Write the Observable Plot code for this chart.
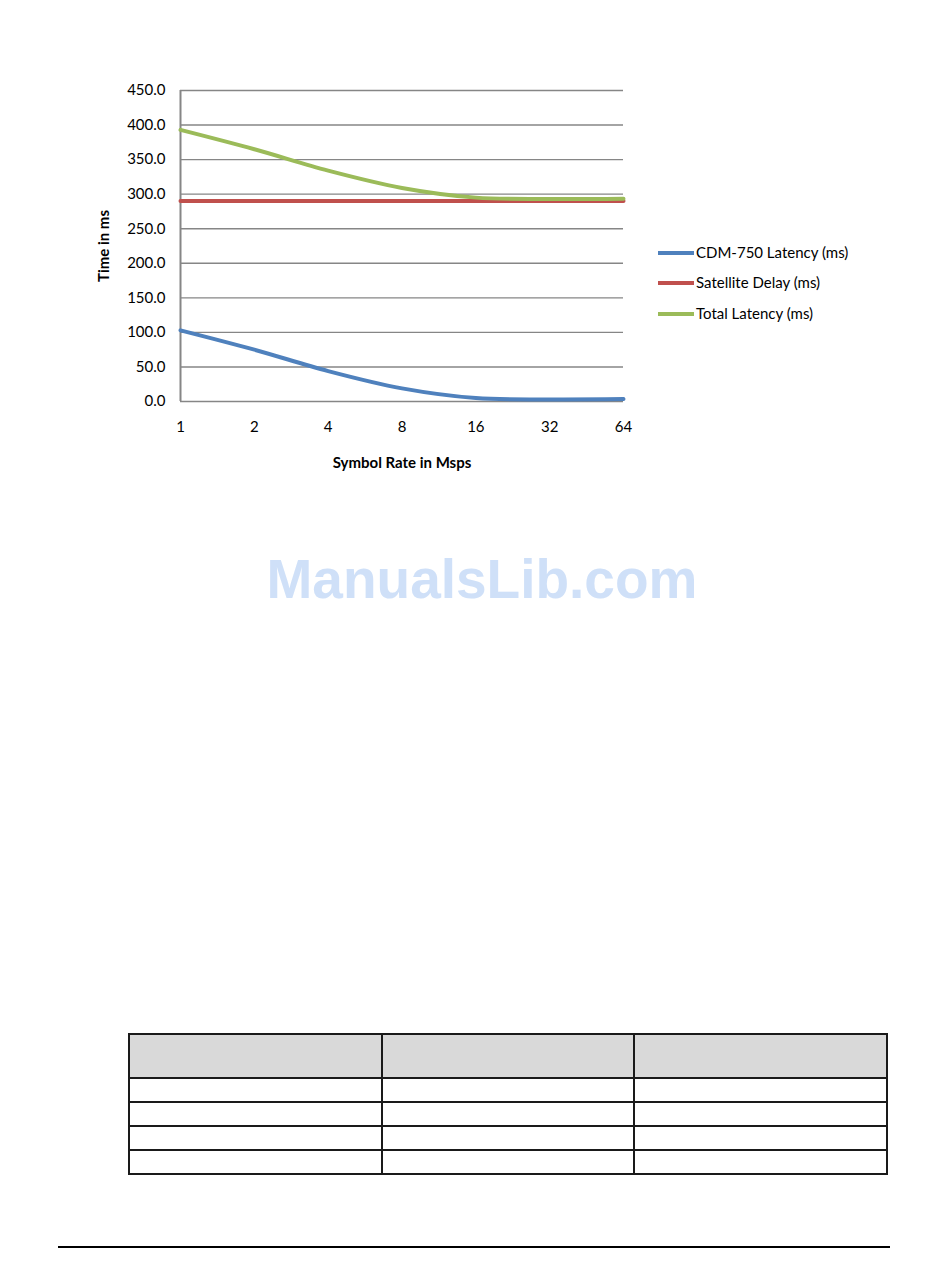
<!DOCTYPE html>
<html>
<head>
<meta charset="utf-8">
<script src="https://cdn.jsdelivr.net/npm/d3@7"></script>
<script src="https://cdn.jsdelivr.net/npm/@observablehq/plot@0.6"></script>
<style>
  body { margin: 0; background: #fff; }
  #page { position: relative; width: 950px; height: 1267px; overflow: hidden; background: #fff;
          font-family: Lato, "Open Sans", sans-serif; color: #000; }
  #chart { position: absolute; left: 0; top: 0; }
  .legend { position: absolute; left: 658px; top: 0; font-size: 15px; }
  .legend .row { position: absolute; left: 0; white-space: nowrap; height: 18px; line-height: 18px; transform: translateY(-9px); }
  .legend .swatch { display: inline-block; width: 36px; height: 4px; vertical-align: middle; margin-right: 2px; position: relative; top: -1px; }
  .watermark { position: absolute; left: 0; width: 964px; top: 547px; text-align: center;
               font-family: "Liberation Sans", Arial, sans-serif; font-weight: bold; font-size: 55px;
               color: #cfe0f8; line-height: 64px; }
  table.blank { position: absolute; left: 128px; top: 1033px; width: 760px; border-collapse: collapse; table-layout: fixed; }
  table.blank td { border: 2px solid #1a1a1a; padding: 0; }
  table.blank tr.head td { background: #d9d9d9; height: 42px; }
  table.blank tr.body td { height: 22px; }
  .footrule { position: absolute; left: 58px; top: 1246px; width: 832px; height: 2px; background: #000; }
</style>
</head>
<body>
<div id="page">
  <div id="chart"></div>
  <div class="legend" id="legend"></div>
  <div class="watermark">ManualsLib.com</div>
  <table class="blank">
    <tr class="head"><td></td><td></td><td></td></tr>
    <tr class="body"><td></td><td></td><td></td></tr>
    <tr class="body"><td></td><td></td><td></td></tr>
    <tr class="body"><td></td><td></td><td></td></tr>
    <tr class="body"><td></td><td></td><td></td></tr>
  </table>
  <div class="footrule"></div>
</div>
<script>
// Symbol rate (Msps) against latency figures (ms)
const symbolRates = [1, 2, 4, 8, 16, 32, 64];
const cdmLatency = [103, 75, 44, 19, 5, 3, 3.5];
const satelliteDelay = [290, 290, 290, 290, 290, 290, 290];
const totalLatency = [393, 365, 334, 309, 295, 293, 293.5];
const yTicks = [0, 50, 100, 150, 200, 250, 300, 350, 400, 450];

const seriesNames = ["CDM-750 Latency (ms)", "Satellite Delay (ms)", "Total Latency (ms)"];
const seriesColors = ["#4F81BD", "#C0504D", "#9BBB59"];
const seriesValues = [cdmLatency, satelliteDelay, totalLatency];

const rows = seriesNames.flatMap((name, s) =>
  symbolRates.map((rate, i) => ({ series: name, rate, value: seriesValues[s][i] }))
);

const font = "Lato, 'Open Sans', sans-serif";

const chart = Plot.plot({
  width: 950,
  height: 500,
  marginLeft: 180,
  marginRight: 327,
  marginTop: 90,
  marginBottom: 99,
  style: { fontFamily: font, fontSize: "15px", color: "#000", background: "transparent", overflow: "visible" },
  x: { type: "log", base: 2, domain: [1, 64], label: null },
  y: { domain: [0, 450], label: null },
  color: { domain: seriesNames, range: seriesColors },
  marks: [
    Plot.gridY(yTicks, { stroke: "#868686", strokeOpacity: 1, strokeWidth: 1.4 }),
    Plot.ruleX([1], { stroke: "#868686", strokeWidth: 2 }),
    Plot.axisY(yTicks, { tickSize: 0, tickPadding: 15, tickFormat: d => d.toFixed(1), fill: "#000" }),
    Plot.axisX(symbolRates, { tickSize: 0, tickPadding: 20, tickFormat: d => String(d), fill: "#000" }),
    Plot.text(["Time in ms"], { frameAnchor: "left", dx: -76, rotate: -90, fontWeight: "bold", fontSize: 15,
                                textAnchor: "middle", lineAnchor: "middle", letterSpacing: "1.2px", wordSpacing: "3px" }),
    Plot.text(["Symbol Rate in Msps"], { frameAnchor: "bottom", dy: 62, fontWeight: "bold", fontSize: 15,
                                         textAnchor: "middle", lineAnchor: "middle", letterSpacing: "0.4px", wordSpacing: "2px" }),
    Plot.line(rows, { x: "rate", y: "value", z: "series", stroke: "series", strokeWidth: 4, curve: "catmull-rom" })
  ]
});
document.getElementById("chart").appendChild(chart);

// Legend beside the plot
const legend = document.getElementById("legend");
const legendY = [252, 282, 313];
seriesNames.forEach((name, i) => {
  const row = document.createElement("div");
  row.className = "row";
  row.style.top = legendY[i] + "px";
  const sw = document.createElement("span");
  sw.className = "swatch";
  sw.style.background = seriesColors[i];
  row.appendChild(sw);
  row.appendChild(document.createTextNode(name));
  legend.appendChild(row);
});
</script>
</body>
</html>
